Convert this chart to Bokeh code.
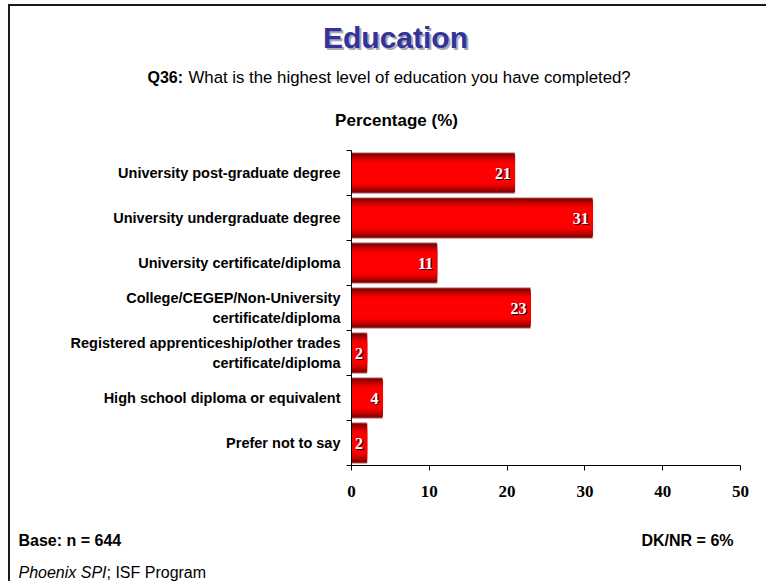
from bokeh.plotting import figure
from bokeh.layouts import column
from bokeh.models import (Range1d, LinearAxis, FixedTicker, ColumnDataSource,
                          CustomJSTickFormatter)
from bokeh.core.properties import value
from bokeh.embed import file_html
from bokeh.resources import INLINE

# ---- data ----
categories = [
    "University post-graduate degree",
    "University undergraduate degree",
    "University certificate/diploma",
    "College/CEGEP/Non-University\ncertificate/diploma",
    "Registered apprenticeship/other trades\ncertificate/diploma",
    "High school diploma or equivalent",
    "Prefer not to say",
]
percentages = [21, 31, 11, 23, 2, 4, 2]
x_ticks = [0, 10, 20, 30, 40, 50]

title_text = "Education"
question_id = "Q36:"
question_text = "What is the highest level of education you have completed?"
axis_title = "Percentage (%)"
base_text = "Base: n = 644"
dknr_text = "DK/NR = 6%"
source_bold = "Phoenix SPI"
source_rest = "; ISF Program"

n = len(categories)
rows = [n - 1 - i for i in range(n)]   # first category at the top

src = ColumnDataSource(dict(
    row=rows,
    pct=percentages,
    lab=[str(v) for v in percentages],
))

W = 756
HEAD_H, MAIN_H, FOOT_H = 134, 370, 71
X_MAX = 50


def blank_fig(h):
    f = figure(width=W, height=h, x_range=Range1d(0, W), y_range=Range1d(h, 0),
               x_axis_type=None, y_axis_type=None, output_backend="svg",
               toolbar_location=None, min_border=0)
    f.outline_line_color = None
    f.xgrid.visible = False
    f.ygrid.visible = False
    f.frame_align = False
    return f


def txt(f, x, y, s, size, style="normal", color="black", align="left",
        font="Liberation Sans"):
    f.text(x=[x], y=[y], text=[s], text_font=value(font), text_font_size=size,
           text_font_style=style, text_color=color, text_align=align,
           text_baseline="middle")


# ---- header ----
head = blank_fig(HEAD_H)
txt(head, 387, 33, title_text, "30px", "bold", "#a8a8b8", "center")
txt(head, 385, 31, title_text, "30px", "bold", "#333399", "center")
txt(head, 137, 71, question_id, "16px", "bold")
txt(head, 178, 71, question_text, "16.8px")
txt(head, 386, 114, axis_title, "17px", "bold", align="center")

# ---- main chart ----
p = figure(width=W, height=MAIN_H,
           y_range=Range1d(-0.5, n - 0.5),
           x_range=Range1d(0, X_MAX),
           x_axis_type=None, y_axis_type=None,
           output_backend="svg", toolbar_location=None,
           min_border_left=341, min_border_right=26,
           min_border_top=10, min_border_bottom=45)
p.outline_line_color = None
p.xgrid.visible = False
p.ygrid.visible = False
p.frame_align = False

# gradient bars (stacked layers, dark edges to bright centre)
layers = [(0.90, "#7a0000"), (0.84, "#8e0000"), (0.78, "#a40000"),
          (0.72, "#ba0000"), (0.66, "#d00000"), (0.60, "#e20000"),
          (0.54, "#f00000"), (0.48, "#fa0000"), (0.40, "#ff0000")]
p.hbar(y="row", right="pct", left=0, height=layers[0][0], source=src,
       fill_color=layers[0][1], line_color="#d8a8a8", line_width=1)
for h, c in layers[1:]:
    p.hbar(y="row", right="pct", left=0, height=h, source=src,
           fill_color=c, line_color=None)

# value labels with shadow
p.text(x="pct", y="row", text="lab", source=src, x_offset=-3, y_offset=1,
       text_align="right", text_baseline="middle", text_color="#200020",
       text_font=value("Liberation Serif"), text_font_style="bold",
       text_font_size="16px")
p.text(x="pct", y="row", text="lab", source=src, x_offset=-4, y_offset=0,
       text_align="right", text_baseline="middle", text_color="white",
       text_font=value("Liberation Serif"), text_font_style="bold",
       text_font_size="16px")

# inner axis: band-boundary ticks; outer axis: category labels
tick_axis = LinearAxis(ticker=FixedTicker(ticks=[r - 0.5 for r in range(n + 1)]),
                       formatter=CustomJSTickFormatter(code="return ''"),
                       major_tick_out=5, major_tick_in=0,
                       minor_tick_line_color=None,
                       major_label_standoff=0,
                       axis_line_color="black", major_tick_line_color="black")
p.add_layout(tick_axis, "left")

label_axis = LinearAxis(ticker=FixedTicker(ticks=rows),
                        major_label_overrides={r: c for r, c in zip(rows, categories)},
                        major_tick_out=0, major_tick_in=0,
                        major_tick_line_color=None, minor_tick_line_color=None,
                        axis_line_color=None,
                        major_label_standoff=6,
                        major_label_text_font="Liberation Sans",
                        major_label_text_font_style="bold",
                        major_label_text_font_size="14.5px",
                        major_label_text_color="black")
p.add_layout(label_axis, "left")

xax = LinearAxis(ticker=FixedTicker(ticks=x_ticks),
                 major_tick_out=5, major_tick_in=0,
                 minor_tick_line_color=None,
                 major_label_text_font="Liberation Serif",
                 major_label_text_font_style="bold",
                 major_label_text_font_size="17px",
                 major_label_text_color="black",
                 major_label_standoff=15,
                 axis_line_color="black", major_tick_line_color="black")
p.add_layout(xax, "below")

# ---- footer ----
foot = blank_fig(FOOT_H)
txt(foot, 8, 30, base_text, "16px", "bold")
txt(foot, 723, 30, dknr_text, "16px", "bold", align="right")
txt(foot, 8, 62, source_bold, "16px", "italic")
txt(foot, 96, 62, source_rest, "16px")

page = column(head, p, foot, spacing=0)
page.styles = {"border-top": "2px solid #1a1a1a", "border-left": "2px solid #1a1a1a",
               "margin-left": "8px", "margin-top": "4px"}

open("out.html", "w").write(file_html(page, INLINE))
